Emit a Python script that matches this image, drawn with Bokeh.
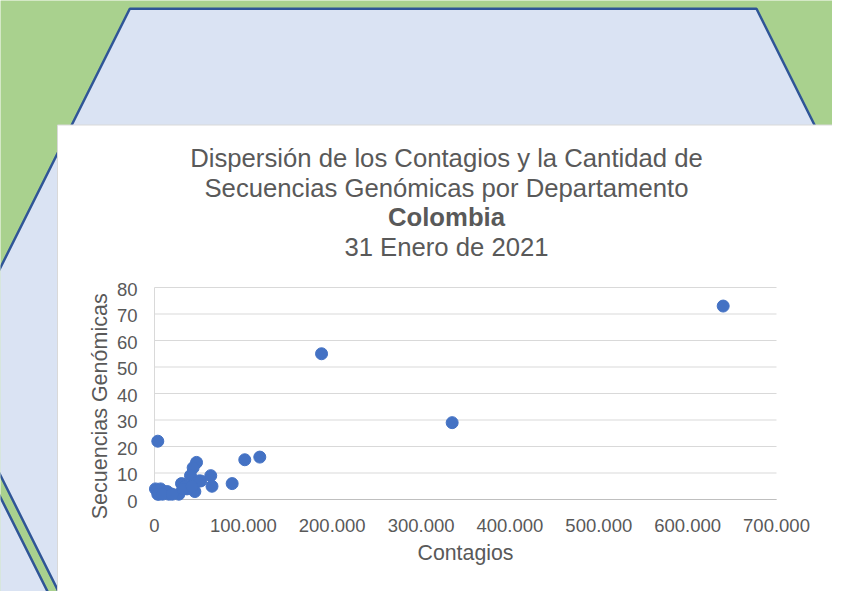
from bokeh.plotting import figure
from bokeh.models import Range1d
from bokeh.core.properties import value
from bokeh.embed import file_html
from bokeh.resources import INLINE
import math

# ---------------- data ----------------
contagios = [640000, 188000, 335000, 3700, 101600, 118500, 47300, 43500, 40500, 63300,
             49900, 64700, 87400, 30400, 34100, 45400, 36600, 27400, 16100, 4800,
             1100, 6800, 14300, 3700, 45000, 32000, 9000, 52000, 20000, 42000]
secuencias = [73, 55, 29, 22, 15, 16, 14, 12, 9, 9,
              7, 5, 6, 6, 5, 3, 4, 2, 2, 2,
              4, 4, 3, 2, 6, 4, 2, 7, 2, 5]

x_ticks = [0, 100000, 200000, 300000, 400000, 500000, 600000, 700000]
x_tick_labels = ["0", "100.000", "200.000", "300.000", "400.000", "500.000", "600.000", "700.000"]
y_ticks = [0, 10, 20, 30, 40, 50, 60, 70, 80]
y_tick_labels = ["0", "10", "20", "30", "40", "50", "60", "70", "80"]

title_lines = ["Dispersión de los Contagios y la Cantidad de",
               "Secuencias Genómicas por Departamento",
               "Colombia",
               "31 Enero de 2021"]
x_title = "Contagios"
y_title = "Secuencias Genómicas"

# ---------------- layout (picture pixels) ----------------
W, H = 832, 591
PX0, PX1 = 154, 776      # plot area left/right in picture px
PY1, PY0 = 287, 499      # plot area top/bottom in picture px
XMAX, YMAX = 700000, 80

def dx(ix):
    return (ix - PX0) / (PX1 - PX0) * XMAX

def dy(iy):
    return (PY0 - iy) / (PY0 - PY1) * YMAX

GREEN = "#A9D18E"
LBLUE = "#DAE3F3"
DBLUE = "#2F5597"
GRAY = "#595959"
FONT = "Liberation Sans"

p = figure(width=W, height=H, output_backend="svg", toolbar_location=None, tools="",
           x_axis_type=None, y_axis_type=None,
           x_range=Range1d(dx(0), dx(W)), y_range=Range1d(dy(H), dy(0)),
           min_border=0)
p.border_fill_color = GREEN
p.background_fill_color = GREEN
p.outline_line_color = None

# background hexagons
hexA = [(129.3, 8.3), (756, 8.3), (937.2, 371), (756, 733.7), (129.3, 733.7), (-52, 371)]
hexB = [(-700, 385), (-56, 385), (125.4, 747.7), (-56, 1110), (-700, 1110)]
p.patches(xs=[[dx(a) for a, b in poly] for poly in (hexA, hexB)],
          ys=[[dy(b) for a, b in poly] for poly in (hexA, hexB)],
          fill_color=LBLUE, line_color=DBLUE, line_width=2.5)

# white chart area
p.quad(left=[dx(57)], right=[dx(835)], top=[dy(124.5)], bottom=[dy(591)],
       fill_color="white", line_color="#D9D9D9", line_width=1)

# gridlines and axis lines
p.segment(x0=[0] * len(y_ticks), x1=[XMAX] * len(y_ticks), y0=y_ticks, y1=y_ticks,
          line_color="#D9D9D9", line_width=1)
p.segment(x0=[0], x1=[0], y0=[0], y1=[YMAX], line_color="#D9D9D9", line_width=1)
p.segment(x0=[0], x1=[XMAX], y0=[0], y1=[0], line_color="#BFBFBF", line_width=1)

# tick labels
p.text(x=[0] * len(y_ticks), y=y_ticks, text=y_tick_labels, text_font=value(FONT),
       text_font_size="18.5px", text_color=GRAY, text_align="right",
       text_baseline="alphabetic", x_offset=-17, y_offset=1.5)
p.text(x=x_ticks, y=[0] * len(x_ticks), text=x_tick_labels, text_font=value(FONT),
       text_font_size="18.5px", text_color=GRAY, text_align="center",
       text_baseline="alphabetic", y_offset=25.5)

# data
p.scatter(contagios, secuencias, size=12, fill_color="#4472C4", line_color="#4472C4")

# titles
baselines = [157.8, 187.8, 216.8, 246.8]
normal_idx = [0, 1, 3]
p.text(x=[dx(446)] * 3, y=[dy(baselines[i]) for i in normal_idx],
       text=[title_lines[i] for i in normal_idx], text_font=value(FONT),
       text_font_size="25.7px", text_color=GRAY, text_align="center",
       text_baseline="alphabetic")
p.text(x=[dx(446)], y=[dy(baselines[2])], text=[title_lines[2]], text_font=value(FONT),
       text_font_size="25.7px", text_color=GRAY, text_align="center",
       text_baseline="alphabetic", text_font_style="bold")
p.text(x=[dx(465)], y=[dy(552.6)], text=[x_title], text_font=value(FONT),
       text_font_size="21.3px", text_color=GRAY, text_align="center",
       text_baseline="alphabetic")
p.text(x=[dx(99.5)], y=[dy(405.8)], text=[y_title], text_font=value(FONT),
       text_font_size="21.5px", text_color=GRAY, text_align="center",
       text_baseline="alphabetic", angle=math.pi / 2)

open("out.html", "w").write(file_html(p, INLINE))
